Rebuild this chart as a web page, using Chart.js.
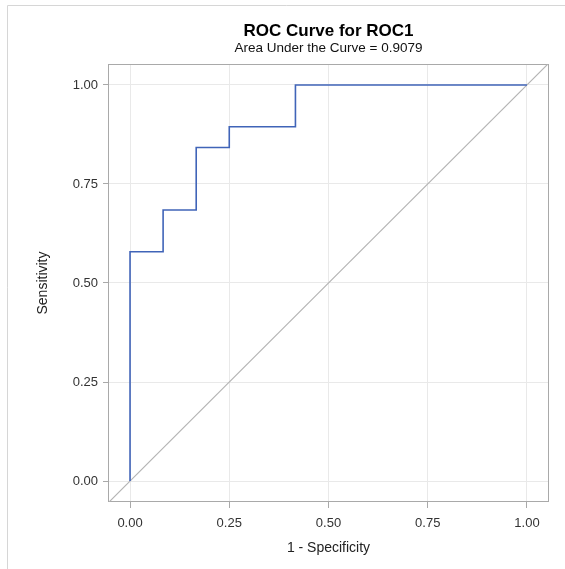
<!DOCTYPE html>
<html>
<head>
<meta charset="utf-8">
<title>ROC Curve for ROC1</title>
<script src="https://cdn.jsdelivr.net/npm/chart.js@4.4.1/dist/chart.umd.min.js"></script>
<style>
    body { margin: 0; background: #fff; }
    #wrap { width: 565px; height: 569px; }
</style>
</head>
<body>
<div id="wrap"><canvas id="rocChart" width="565" height="569"></canvas></div>
<script>
// ROC points (1 - specificity, sensitivity)
var fpr = [0, 0, 0.0833, 0.0833, 0.1667, 0.1667, 0.25, 0.25, 0.4167, 0.4167, 1];
var tpr = [0, 0.5789, 0.5789, 0.6842, 0.6842, 0.8421, 0.8421, 0.8947, 0.8947, 1, 1];

// axis ticks
var tickValues = [0, 0.25, 0.5, 0.75, 1];
var axisMin = -0.053;
var axisMax = 1.053;

var titleText = 'ROC Curve for ROC1';
var subtitleText = 'Area Under the Curve = 0.9079';
var fontFamily = '"Liberation Sans", Arial, sans-serif';

var rocPoints = fpr.map(function (x, i) { return { x: x, y: tpr[i] }; });
var chancePoints = [{ x: axisMin, y: axisMin }, { x: axisMax, y: axisMax }];

// white page, thin frame, plot box and titles
var decorPlugin = {
    id: 'decor',
    beforeDraw: function (chart) {
        var ctx = chart.ctx;
        ctx.save();
        ctx.fillStyle = '#fff';
        ctx.fillRect(0, 0, chart.width, chart.height);
        ctx.strokeStyle = '#d6d6d6';
        ctx.lineWidth = 1;
        ctx.beginPath();
        ctx.moveTo(7.5, chart.height);
        ctx.lineTo(7.5, 5.5);
        ctx.lineTo(chart.width, 5.5);
        ctx.stroke();
        ctx.restore();
    },
    beforeDatasetsDraw: function (chart) {
        var a = chart.chartArea;
        var ctx = chart.ctx;
        ctx.save();
        ctx.strokeStyle = '#a9a9a9';
        ctx.lineWidth = 1;
        ctx.strokeRect(Math.round(a.left) - 0.5, Math.round(a.top) + 0.5,
            Math.round(a.right - a.left) + 1, Math.round(a.bottom - a.top) - 1);
        ctx.restore();
    },
    afterDraw: function (chart) {
        var a = chart.chartArea;
        var cx = (a.left + a.right) / 2;
        var ctx = chart.ctx;
        ctx.save();
        ctx.textAlign = 'center';
        ctx.textBaseline = 'alphabetic';
        ctx.fillStyle = '#000';
        ctx.font = 'bold 17px ' + fontFamily;
        ctx.fillText(titleText, cx, 36);
        ctx.font = '13.5px ' + fontFamily;
        ctx.fillStyle = '#111';
        ctx.fillText(subtitleText, cx, 52);
        ctx.restore();
    }
};

function fixedTicks(scale) {
    scale.ticks = tickValues.map(function (v) { return { value: v }; });
}

var ctx = document.getElementById('rocChart').getContext('2d');
var rocChart = new Chart(ctx, {
    type: 'line',
    data: {
        datasets: [{
            label: 'ROC1',
            data: rocPoints,
            borderColor: '#4064b8',
            borderWidth: 1.6,
            pointRadius: 0,
            fill: false,
            tension: 0
        }, {
            label: 'Chance',
            data: chancePoints,
            borderColor: '#b4b4b4',
            borderWidth: 1.2,
            pointRadius: 0,
            fill: false,
            tension: 0
        }]
    },
    options: {
        responsive: false,
        animation: false,
        events: [],
        layout: {
            padding: { top: 64, right: 17, bottom: 0, left: 0 }
        },
        plugins: {
            legend: { display: false },
            tooltip: { enabled: false }
        },
        scales: {
            x: {
                type: 'linear',
                min: axisMin,
                max: axisMax,
                afterBuildTicks: fixedTicks,
                afterFit: function (scale) { scale.height = 67; },
                border: { display: false },
                grid: {
                    color: '#e9e9e9',
                    tickColor: '#a9a9a9',
                    tickLength: 6,
                    lineWidth: 1
                },
                ticks: {
                    padding: 8,
                    color: '#333',
                    font: { family: fontFamily, size: 13 },
                    maxRotation: 0,
                    callback: function (v) { return Number(v).toFixed(2); }
                },
                title: {
                    display: true,
                    text: '1 - Specificity',
                    color: '#222',
                    font: { family: fontFamily, size: 14 },
                    padding: { top: 0, bottom: 12 }
                }
            },
            y: {
                type: 'linear',
                min: axisMin,
                max: axisMax,
                afterBuildTicks: fixedTicks,
                afterFit: function (scale) { scale.width = 109; },
                border: { display: false },
                grid: {
                    color: '#e9e9e9',
                    tickColor: '#a9a9a9',
                    tickLength: 6,
                    lineWidth: 1
                },
                ticks: {
                    padding: 5,
                    color: '#333',
                    font: { family: fontFamily, size: 13 },
                    callback: function (v) { return Number(v).toFixed(2); }
                },
                title: {
                    display: true,
                    text: 'Sensitivity',
                    color: '#222',
                    font: { family: fontFamily, size: 14 },
                    padding: { top: 35, bottom: 0 }
                }
            }
        }
    },
    plugins: [decorPlugin]
});
</script>
</body>
</html>
